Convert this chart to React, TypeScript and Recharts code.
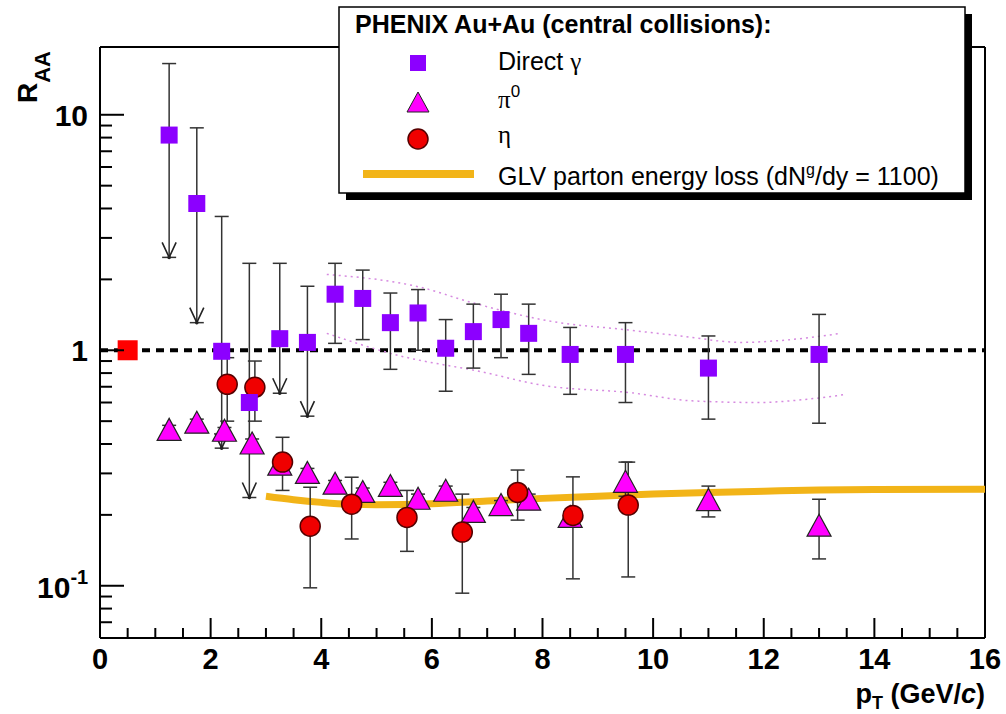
import React from 'react';
import {
  ComposedChart,
  Scatter,
  Line,
  XAxis,
  YAxis,
  ErrorBar,
  ReferenceLine,
} from 'recharts';

// Direct photons (purple squares); first six points are upper limits
const gammaX = [1.25, 1.75, 2.2, 2.7, 3.25, 3.75, 4.25, 4.75, 5.25, 5.75, 6.25, 6.75, 7.25, 7.75, 8.5, 9.5, 11, 13];
const gammaY = [8.2, 4.2, 0.99, 0.6, 1.12, 1.08, 1.73, 1.66, 1.31, 1.44, 1.02, 1.2, 1.35, 1.18, 0.96, 0.96, 0.84, 0.96];
const gammaHigh = [16.5, 8.8, 3.7, 2.34, 2.34, 1.87, 2.34, 2.19, 1.75, 1.81, 1.35, 1.57, 1.73, 1.57, 1.25, 1.31, 1.15, 1.42];
const gammaLow = [2.48, 1.31, 0.384, 0.237, 0.657, 0.525, 1.07, 1.11, 0.83, 1.0, 0.67, 0.84, 0.93, 0.79, 0.65, 0.6, 0.51, 0.49];
const gammaLimit = [true, true, true, true, true, true, false, false, false, false, false, false, false, false, false, false, false, false];

// pi0 (magenta triangles)
const pi0X = [1.25, 1.75, 2.25, 2.75, 3.25, 3.75, 4.25, 4.75, 5.25, 5.75, 6.25, 6.75, 7.25, 7.75, 8.5, 9.5, 11, 13];
const pi0Y = [0.457, 0.49, 0.453, 0.4, 0.325, 0.3, 0.27, 0.249, 0.264, 0.233, 0.252, 0.205, 0.219, 0.231, 0.195, 0.275, 0.23, 0.179];
const pi0High = [0.48, 0.51, 0.47, 0.42, 0.34, 0.315, 0.28, 0.26, 0.275, 0.245, 0.265, 0.215, 0.23, 0.245, 0.205, 0.335, 0.265, 0.233];
const pi0Low = [0.435, 0.47, 0.435, 0.38, 0.31, 0.285, 0.26, 0.238, 0.252, 0.222, 0.24, 0.195, 0.208, 0.217, 0.185, 0.24, 0.196, 0.13];

// eta (red circles)
const etaX = [2.3, 2.8, 3.3, 3.8, 4.55, 5.55, 6.55, 7.55, 8.55, 9.55];
const etaY = [0.717, 0.696, 0.335, 0.179, 0.222, 0.195, 0.169, 0.249, 0.199, 0.22];
const etaHigh = [0.93, 0.9, 0.427, 0.262, 0.289, 0.254, 0.245, 0.31, 0.29, 0.335];
const etaLow = [0.5, 0.5, 0.254, 0.098, 0.158, 0.14, 0.093, 0.19, 0.107, 0.109];

// GLV parton energy loss curve
const glvX = [3.0, 3.5, 4.0, 4.5, 5.0, 6.0, 7.0, 8.0, 9.0, 10.0, 11.0, 12.0, 13.0, 14.0, 16.0];
const glvY = [0.24, 0.232, 0.226, 0.222, 0.221, 0.223, 0.229, 0.235, 0.24, 0.245, 0.249, 0.252, 0.255, 0.256, 0.257];

// direct photon systematic band (dotted)
const bandUpX = [4.1, 5.8, 6.7, 8.3, 9.4, 10.5, 11.6, 12.3, 13.4];
const bandUpY = [2.1, 1.85, 1.6, 1.31, 1.23, 1.15, 1.08, 1.1, 1.18];
const bandLoX = [4.1, 5.4, 6.9, 8.0, 9.6, 10.7, 11.9, 12.8, 13.5];
const bandLoY = [1.18, 0.95, 0.81, 0.71, 0.66, 0.61, 0.6, 0.62, 0.65];

// normalisation uncertainty box
const normX = [0.5];
const normY = [1];

const xTicks = [0, 0.5, 1, 1.5, 2, 2.5, 3, 3.5, 4, 4.5, 5, 5.5, 6, 6.5, 7, 7.5, 8, 8.5, 9, 9.5, 10, 10.5, 11, 11.5, 12, 12.5, 13, 13.5, 14, 14.5, 15, 15.5, 16];
const yTicks = [0.06, 0.07, 0.08, 0.09, 0.1, 0.2, 0.3, 0.4, 0.5, 0.6, 0.7, 0.8, 0.9, 1, 2, 3, 4, 5, 6, 7, 8, 9, 10];
const yMin = 0.06;
const yMax = 19.4;

const SANS = '"Liberation Sans", Arial, Helvetica, sans-serif';
const SERIF = '"Liberation Serif", "Times New Roman", serif';

const withErr = (xs: number[], ys: number[], lo: number[], hi: number[]) =>
  xs.map((x, i) => ({ x, y: ys[i], err: [ys[i] - lo[i], hi[i] - ys[i]] }));
const points = (xs: number[], ys: number[]) => xs.map((x, i) => ({ x, y: ys[i] }));

const gammaData = withErr(gammaX, gammaY, gammaLow, gammaHigh);
const arrowData = gammaX
  .map((x, i) => ({ x, y: gammaLow[i], lim: gammaLimit[i] }))
  .filter((d) => d.lim);
const pi0Data = withErr(pi0X, pi0Y, pi0Low, pi0High);
const etaData = withErr(etaX, etaY, etaLow, etaHigh);

const Square = (props: any) => (
  <rect x={props.cx - 8.5} y={props.cy - 8.5} width={17} height={17} fill="#8c00ff" />
);
const BigSquare = (props: any) => (
  <rect x={props.cx - 10} y={props.cy - 10} width={20} height={20} fill="#ff0000" />
);
const Triangle = (props: any) => (
  <polygon
    points={`${props.cx},${props.cy - 12} ${props.cx - 12},${props.cy + 10} ${props.cx + 12},${props.cy + 10}`}
    fill="#ff00ff"
    stroke="#222"
    strokeWidth={1.2}
  />
);
const Circle = (props: any) => (
  <circle cx={props.cx} cy={props.cy} r={10} fill="#f00000" stroke="#500" strokeWidth={1.5} />
);
const Arrow = (props: any) => (
  <g>
    <path
      d={`M${props.cx - 7},${props.cy - 15} L${props.cx},${props.cy} L${props.cx + 7},${props.cy - 15}`}
      stroke="#222"
      strokeWidth={1.6}
      fill="none"
    />
    <circle cx={props.cx} cy={props.cy} r={1.8} fill="#222" />
  </g>
);

const XTick = ({ x, y, payload }: any) => {
  const v = payload.value;
  const major = v % 2 === 0;
  return (
    <g>
      <line x1={x} x2={x} y1={y} y2={y - (major ? 20 : 10)} stroke="#000" strokeWidth={2} />
      {major && (
        <text x={x} y={y + 31} textAnchor="middle" fontFamily={SANS} fontWeight="bold" fontSize={29} fill="#000">
          {v}
        </text>
      )}
    </g>
  );
};

const YTick = ({ x, y, payload }: any) => {
  const v = payload.value;
  const lg = Math.log10(v);
  const major = Math.abs(lg - Math.round(lg)) < 1e-6;
  let label: any = null;
  if (major && v === 10) label = '10';
  if (major && v === 1) label = '1';
  return (
    <g>
      <line x1={x} x2={x + (major ? 24 : 12)} y1={y} y2={y} stroke="#000" strokeWidth={2} />
      {label && (
        <text x={x - 12} y={y + 11} textAnchor="end" fontFamily={SANS} fontWeight="bold" fontSize={30} fill="#000">
          {label}
        </text>
      )}
      {major && v < 0.5 && (
        <text x={x - 63} y={y + 12} fontFamily={SANS} fontWeight="bold" fontSize={30} fill="#000">
          10<tspan dy={-14} fontSize={20}>-1</tspan>
        </text>
      )}
    </g>
  );
};

export default function App() {
  return (
    <div style={{ position: 'absolute', left: 0, top: 0, width: 1006, height: 714, background: '#fff' }}>
      <ComposedChart width={1006} height={714} margin={{ top: 47, right: 21, bottom: 16, left: 10 }}>
        <XAxis
          type="number"
          dataKey="x"
          domain={[0, 16]}
          ticks={xTicks}
          interval={0}
          allowDataOverflow
          height={60}
          tickSize={0}
          tickMargin={0}
          tickLine={false}
          axisLine={{ stroke: '#000', strokeWidth: 2 }}
          tick={XTick}
        />
        <YAxis
          type="number"
          dataKey="y"
          scale="log"
          domain={[yMin, yMax]}
          ticks={yTicks}
          interval={0}
          allowDataOverflow
          width={90}
          tickSize={0}
          tickMargin={0}
          tickLine={false}
          axisLine={{ stroke: '#000', strokeWidth: 2 }}
          tick={YTick}
        />
        <ReferenceLine y={yMax} stroke="#000" strokeWidth={2} />
        <ReferenceLine x={16} stroke="#000" strokeWidth={2} />
        <ReferenceLine y={1} stroke="#000" strokeWidth={4} strokeDasharray="8 6" />
        <Line
          data={points(bandUpX, bandUpY)}
          dataKey="y"
          type="monotone"
          stroke="#d68ae0"
          strokeWidth={1.5}
          strokeDasharray="2 4"
          dot={false}
          isAnimationActive={false}
        />
        <Line
          data={points(bandLoX, bandLoY)}
          dataKey="y"
          type="monotone"
          stroke="#d68ae0"
          strokeWidth={1.5}
          strokeDasharray="2 4"
          dot={false}
          isAnimationActive={false}
        />
        <Line
          data={points(glvX, glvY)}
          dataKey="y"
          type="monotone"
          stroke="#f2b418"
          strokeWidth={7}
          dot={false}
          isAnimationActive={false}
        />
        <Scatter data={points(normX, normY)} dataKey="y" shape={BigSquare} isAnimationActive={false} />
        <Scatter data={arrowData} dataKey="y" shape={Arrow} isAnimationActive={false} />
        <Scatter data={pi0Data} dataKey="y" shape={Triangle} isAnimationActive={false}>
          <ErrorBar dataKey="err" direction="y" width={7} stroke="#333" strokeWidth={1.5} />
        </Scatter>
        <Scatter data={etaData} dataKey="y" shape={Circle} isAnimationActive={false}>
          <ErrorBar dataKey="err" direction="y" width={7} stroke="#333" strokeWidth={1.5} />
        </Scatter>
        <Scatter data={gammaData} dataKey="y" shape={Square} isAnimationActive={false}>
          <ErrorBar dataKey="err" direction="y" width={7} stroke="#333" strokeWidth={1.5} />
        </Scatter>
      </ComposedChart>

      <svg
        width={1006}
        height={714}
        style={{ position: 'absolute', left: 0, top: 0, pointerEvents: 'none' }}
      >
        {/* axis titles */}
        <text
          transform="translate(37,103) rotate(-90)"
          fontFamily={SANS}
          fontWeight="bold"
          fontSize={28}
          fill="#000"
        >
          R<tspan dy={13} fontSize={22}>AA</tspan>
        </text>
        <text x={985} y={703} textAnchor="end" fontFamily={SANS} fontWeight="bold" fontSize={27} fill="#000">
          p<tspan dy={6} fontSize={18}>T</tspan>
          <tspan dy={-6}> (GeV/</tspan>
          <tspan fontStyle="italic">c</tspan>)
        </text>

        {/* legend */}
        <rect x={346} y={14} width={626} height={186} fill="#000" />
        <rect x={339} y={7} width={626} height={186} fill="#fff" stroke="#000" strokeWidth={1.5} />
        <text x={355} y={33} fontFamily={SANS} fontWeight="bold" fontSize={25} fill="#000">
          PHENIX Au+Au (central collisions):
        </text>
        <rect x={410} y={55} width={16} height={16} fill="#8c00ff" />
        <text x={498} y={70} fontFamily={SANS} fontSize={25} fill="#000">
          Direct <tspan fontFamily={SERIF}>γ</tspan>
        </text>
        <polygon points="418,92 407,112 429,112" fill="#ff00ff" stroke="#222" strokeWidth={1} />
        <text x={498} y={108} fontFamily={SERIF} fontSize={25} fill="#000">
          π<tspan dy={-11} fontFamily={SANS} fontSize={17}>0</tspan>
        </text>
        <circle cx={418} cy={139} r={10} fill="#f00000" stroke="#500" strokeWidth={1.5} />
        <text x={498} y={143} fontFamily={SERIF} fontSize={25} fill="#000">
          η
        </text>
        <line x1={363} x2={474} y1={174} y2={174} stroke="#f2b418" strokeWidth={8} />
        <text x={498} y={185} fontFamily={SANS} fontSize={25} fill="#000">
          GLV parton energy loss (dN<tspan dy={-10} fontSize={16}>g</tspan>
          <tspan dy={10}>/dy = 1100)</tspan>
        </text>
      </svg>
    </div>
  );
}
